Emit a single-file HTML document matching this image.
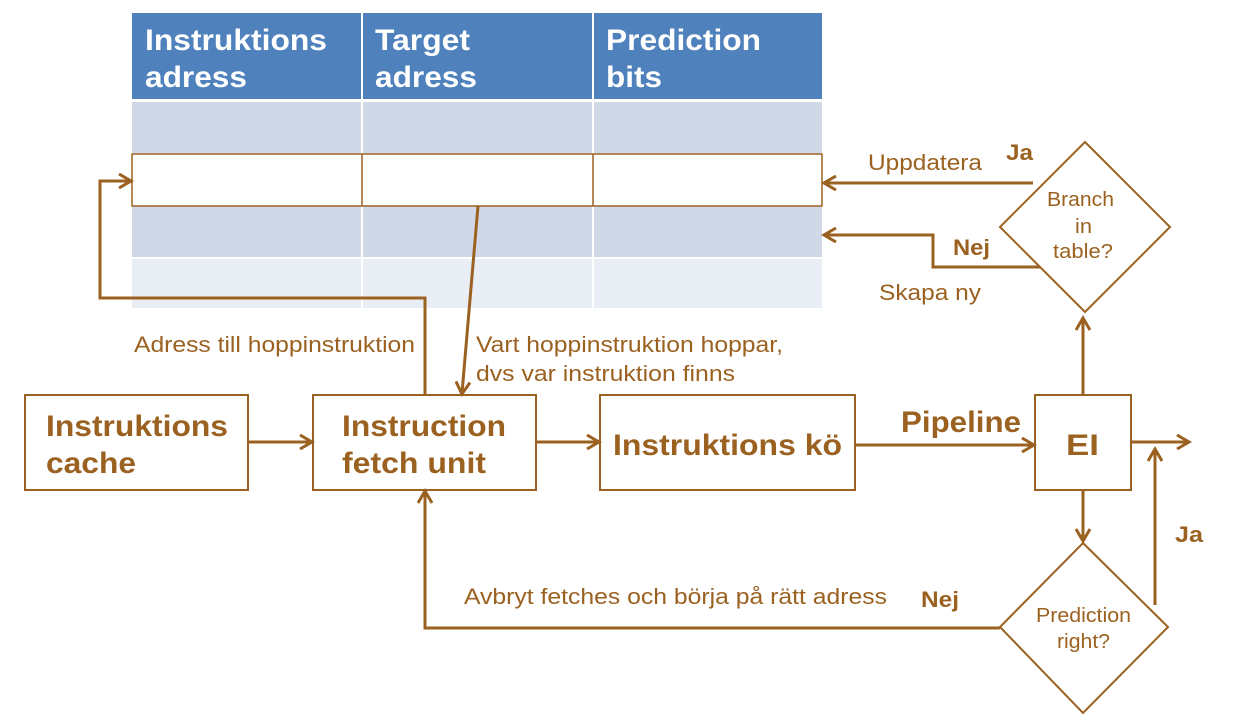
<!DOCTYPE html>
<html><head><meta charset="utf-8"><style>
body{margin:0;background:#fff}
text{font-family:"Liberation Sans",sans-serif}
</style></head><body>
<svg width="1234" height="721" viewBox="0 0 1234 721" xmlns="http://www.w3.org/2000/svg">
<defs><marker id="a" markerWidth="16" markerHeight="16" refX="12" refY="8" orient="auto" markerUnits="userSpaceOnUse"><path d="M1,1 L13,8 L1,15" fill="none" stroke="#9b6120" stroke-width="3"/></marker></defs>
<rect x="132" y="13" width="690" height="86" fill="#4f81bd"/>
<line x1="362" y1="13" x2="362" y2="99" stroke="#fff" stroke-width="2"/>
<line x1="593" y1="13" x2="593" y2="99" stroke="#fff" stroke-width="2"/>
<rect x="132" y="102" width="690" height="51" fill="#d0d8e8"/>
<rect x="132" y="206" width="690" height="51" fill="#d0d8e8"/>
<rect x="132" y="259" width="690" height="49" fill="#e9edf4"/>
<g stroke="#fff" stroke-width="2"><line x1="362" y1="100" x2="362" y2="308"/><line x1="593" y1="100" x2="593" y2="308"/><line x1="132" y1="258" x2="822" y2="258"/></g>
<rect x="132" y="154" width="690" height="52" fill="#fff" stroke="#9b6120" stroke-width="1.5"/>
<line x1="362" y1="154" x2="362" y2="206" stroke="#9b6120" stroke-width="1.5"/>
<line x1="593" y1="154" x2="593" y2="206" stroke="#9b6120" stroke-width="1.5"/>
<g fill="#fff" font-weight="bold" font-size="30" lengthAdjust="spacingAndGlyphs">
<text x="145" y="50" textLength="182" lengthAdjust="spacingAndGlyphs">Instruktions</text><text x="145" y="87" textLength="102" lengthAdjust="spacingAndGlyphs">adress</text>
<text x="375" y="50" textLength="95" lengthAdjust="spacingAndGlyphs">Target</text><text x="375" y="87" textLength="102" lengthAdjust="spacingAndGlyphs">adress</text>
<text x="606" y="50" textLength="155" lengthAdjust="spacingAndGlyphs">Prediction</text><text x="606" y="87" textLength="56" lengthAdjust="spacingAndGlyphs">bits</text></g>
<g fill="#fff" stroke="#9b6120" stroke-width="2">
<rect x="25" y="395" width="223" height="95"/>
<rect x="313" y="395" width="223" height="95"/>
<rect x="600" y="395" width="255" height="95"/>
<rect x="1035" y="395" width="96" height="95"/>
<polygon points="1085,142 1170,227 1085,312 1000,227"/>
<polygon points="1083,543 1168,627 1083,713 1000,627"/>
</g>
<g fill="#9b6120" font-weight="bold" font-size="30">
<text x="46" y="436" textLength="182" lengthAdjust="spacingAndGlyphs">Instruktions</text><text x="46" y="473" textLength="90" lengthAdjust="spacingAndGlyphs">cache</text>
<text x="342" y="436" textLength="164" lengthAdjust="spacingAndGlyphs">Instruction</text><text x="342" y="473" textLength="144" lengthAdjust="spacingAndGlyphs">fetch unit</text>
<text x="613" y="455" textLength="229" lengthAdjust="spacingAndGlyphs">Instruktions kö</text>
<text x="1066" y="455" textLength="33" lengthAdjust="spacingAndGlyphs">EI</text>
<text x="901" y="432" textLength="120" lengthAdjust="spacingAndGlyphs">Pipeline</text>
</g>
<g fill="#9b6120" font-weight="bold" font-size="22">
<text x="1006" y="160" textLength="27" lengthAdjust="spacingAndGlyphs">Ja</text><text x="953" y="255" textLength="37" lengthAdjust="spacingAndGlyphs">Nej</text>
<text x="1175" y="542" textLength="28" lengthAdjust="spacingAndGlyphs">Ja</text><text x="921" y="607" textLength="38" lengthAdjust="spacingAndGlyphs">Nej</text></g>
<g fill="#9b6120" font-size="22">
<text x="868" y="170" textLength="114" lengthAdjust="spacingAndGlyphs">Uppdatera</text>
<text x="879" y="300" textLength="102" lengthAdjust="spacingAndGlyphs">Skapa ny</text>
<text x="134" y="352" textLength="281" lengthAdjust="spacingAndGlyphs">Adress till hoppinstruktion</text>
<text x="476" y="352" textLength="307" lengthAdjust="spacingAndGlyphs">Vart hoppinstruktion hoppar,</text>
<text x="476" y="381" textLength="259" lengthAdjust="spacingAndGlyphs">dvs var instruktion finns</text>
<text x="464" y="604" textLength="423" lengthAdjust="spacingAndGlyphs">Avbryt fetches och börja på rätt adress</text>
</g>
<g fill="#9b6120" font-size="20">
<text x="1047" y="206" textLength="67" lengthAdjust="spacingAndGlyphs">Branch</text><text x="1075" y="233" textLength="17" lengthAdjust="spacingAndGlyphs">in</text><text x="1053" y="258" textLength="60" lengthAdjust="spacingAndGlyphs">table?</text>
<text x="1036" y="622" textLength="95" lengthAdjust="spacingAndGlyphs">Prediction</text><text x="1057" y="648" textLength="53" lengthAdjust="spacingAndGlyphs">right?</text></g>
<g fill="none" stroke="#9b6120" stroke-width="3" marker-end="url(#a)">
<line x1="248" y1="442" x2="311" y2="442"/>
<line x1="536" y1="442" x2="598" y2="442"/>
<line x1="855" y1="445" x2="1033" y2="445"/>
<line x1="1131" y1="442" x2="1188" y2="442"/>
<line x1="1083" y1="395" x2="1083" y2="319"/>
<line x1="1083" y1="490" x2="1083" y2="540"/>
<polyline points="1155,605 1155,450"/>
<polyline points="1000,628 425,628 425,492"/>
<polyline points="425,395 425,298 100,298 100,181 130,181"/>
<line x1="478" y1="206" x2="462" y2="393"/>
<line x1="1033" y1="183" x2="825" y2="183"/>
<polyline points="1040,267 933,267 933,235 825,235"/>
</g>
</svg>
</body></html>
